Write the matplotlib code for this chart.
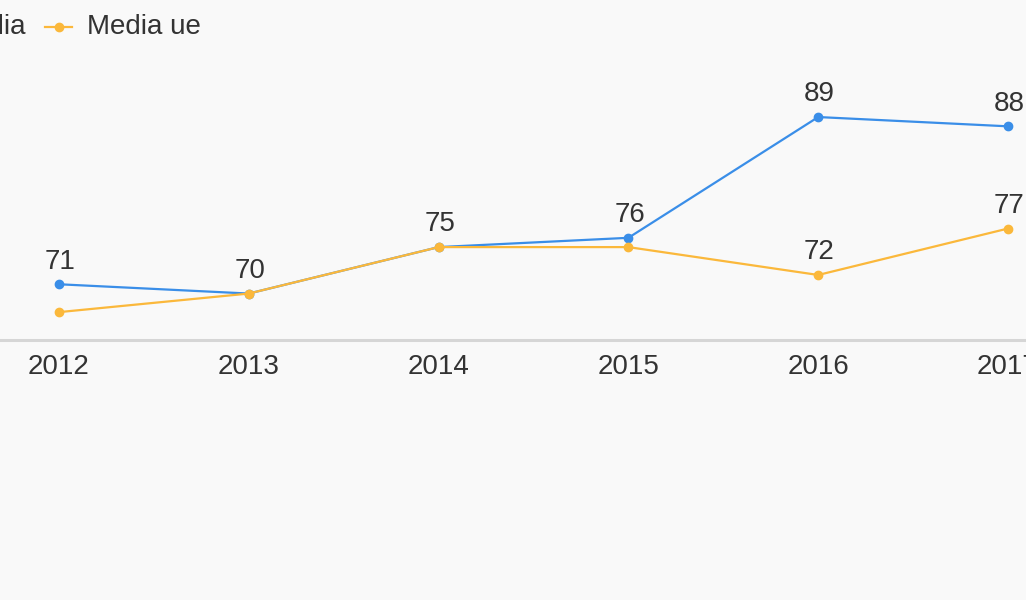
import matplotlib
matplotlib.use("Agg")
import matplotlib.pyplot as plt
from matplotlib.lines import Line2D

years = [2012, 2013, 2014, 2015, 2016, 2017]
italia = [71, 70, 75, 76, 89, 88]
media_ue = [68, 70, 75, 75, 72, 77]
ue_label_shown = [False, False, False, False, True, True]
series_names = ["Italia", "Media ue"]

BLUE = "#3a8ee8"
ORANGE = "#fbb83b"
TXT = "#333333"
BG = "#f9f9f9"
FS = 20

plt.rcParams['font.family'] = ['Liberation Sans', 'DejaVu Sans']

W, H = 1026, 600
fig = plt.figure(figsize=(W / 100, H / 100), dpi=100, facecolor=BG)

# axes: baseline at y=340px, top at y=60px; full width
bottom = (H - 340) / H
top = (H - 60) / H
ax = fig.add_axes([0, bottom, 1, top - bottom])
ax.set_facecolor(BG)

px_per_year = 189.8
x0px = 59
ax.set_xlim(2012 - x0px / px_per_year, 2012 + (W - x0px) / px_per_year)
ppu = 9.29
ax.set_ylim(65, 65 + (340 - 60) / ppu)

for s in ax.spines.values():
    s.set_visible(False)
ax.axhline(65, color="#d6d6d6", lw=2.2, zorder=1, clip_on=False)

ax.plot(years, italia, color=BLUE, lw=1.6, marker="o", ms=6, zorder=3)
ax.plot(years, media_ue, color=ORANGE, lw=1.6, marker="o", ms=6, zorder=4)

for x, v in zip(years, italia):
    ax.annotate(str(v), (x, v), xytext=(0.8, 7), textcoords="offset points",
                ha="center", va="bottom", fontsize=FS, color=TXT,
                annotation_clip=False)
for x, v, show in zip(years, media_ue, ue_label_shown):
    if show:
        ax.annotate(str(v), (x, v), xytext=(0.8, 7), textcoords="offset points",
                    ha="center", va="bottom", fontsize=FS, color=TXT,
                    annotation_clip=False)

ax.set_xticks(years)
ax.set_xticklabels([str(y) for y in years], fontsize=FS, color=TXT)
for lbl in ax.get_xticklabels():
    lbl.set_x(lbl.get_position()[0])
ax.tick_params(axis="x", length=0, pad=10)
ax.set_yticks([])

# legend drawn manually (partially off canvas like the reference)
ly = 1 - 27 / H
fig.text(26 / W, ly, series_names[0], ha="right", va="center", fontsize=FS, color=TXT)
fig.text(87 / W, ly, series_names[1], ha="left", va="center", fontsize=FS, color=TXT)
fig.add_artist(Line2D([45 / W, 72 / W], [ly, ly], color=ORANGE, lw=1.6,
                      transform=fig.transFigure))
fig.add_artist(Line2D([58.5 / W], [ly], color=ORANGE, marker="o", ms=6,
                      transform=fig.transFigure))
fig.add_artist(Line2D([-70 / W, -43 / W], [ly, ly], color=BLUE, lw=1.6,
                      transform=fig.transFigure))

fig.savefig("out.png", dpi=100, facecolor=BG)
